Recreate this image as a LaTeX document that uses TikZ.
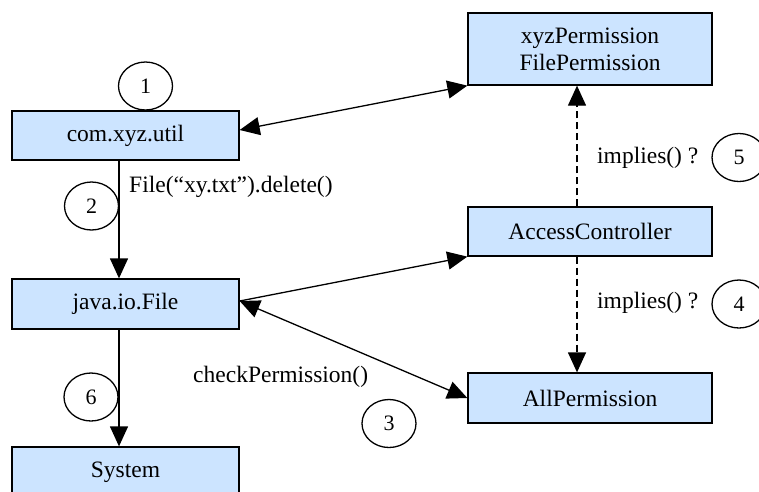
\documentclass[tikz,border=0pt]{standalone}
\usepackage{fontspec}
\setmainfont{Liberation Serif}
\usetikzlibrary{arrows.meta}
\definecolor{boxfill}{RGB}{204,228,255}
\tikzset{
  box/.style={draw=black, fill=boxfill, line width=1.3pt, inner sep=0pt, align=center,
    font=\fontsize{23.5}{27}\selectfont},
  stepmark/.style={draw=black, ellipse, line width=1.3pt, inner sep=0pt,
    minimum width=54pt, minimum height=48pt, font=\fontsize{22}{24}\selectfont},
  edgelabel/.style={inner sep=0pt, font=\fontsize{23.5}{27}\selectfont},
  conn/.style={line width=1.3pt, -{Triangle[length=20pt,width=18pt]}},
  biconn/.style={line width=1.3pt, {Triangle[length=20pt,width=18pt]}-{Triangle[length=20pt,width=18pt]}},
  implies/.style={conn, dash pattern=on 7pt off 4pt}
}
\usetikzlibrary{shapes.geometric}
\begin{document}
\begin{tikzpicture}[x=1pt,y=-1pt]
  \clip (0,0) rectangle (759,491);
  \fill[white] (0,0) rectangle (759,491);

  % classes on the call path
  \node[box, minimum width=227pt, minimum height=49pt] (util) at (125.5,135.5) {com.xyz.util};
  \node[box, minimum width=227pt, minimum height=50pt] (file) at (125.5,304) {java.io.File};
  \node[box, minimum width=227pt, minimum height=50pt] (sys) at (125.5,472) {System};

  % security side
  \node[box, minimum width=244pt, minimum height=72pt] (perm) at (590,49) {xyzPermission\\FilePermission};
  \node[box, minimum width=244pt, minimum height=49pt] (acc) at (590,231.5) {AccessController};
  \node[box, minimum width=244pt, minimum height=50pt] (all) at (590,398) {AllPermission};

  % connectors
  \draw[conn] ([xshift=-6.5pt]util.south) -- ([xshift=-6.5pt]file.north);
  \draw[conn] ([xshift=-6.5pt]file.south) -- ([xshift=-6.5pt]sys.north);
  \draw[biconn] ([yshift=5.5pt]util.east) -- (perm.south west);
  \draw[conn] ([yshift=3pt]file.east) -- (acc.south west);
  \draw[biconn] ([yshift=3pt]file.east) -- (all.west);
  \draw[implies] ([xshift=-13pt]acc.north) -- ([xshift=-13pt]perm.south);
  \draw[implies] ([xshift=-13pt]acc.south) -- ([xshift=-13pt]all.north);

  % edge labels
  \node[edgelabel, anchor=west] (lbldel) at (129,187) {File(“xy.txt”).delete()};
  \node[edgelabel, anchor=west] (lblchk) at (193,377) {checkPermission()};
  \node[edgelabel, anchor=west] (lblimp5) at (597,158) {implies() ?};
  \node[edgelabel, anchor=west] (lblimp4) at (597,303) {implies() ?};

  % step numbers
  \node[stepmark] (s1) at (145.5,86) {1};
  \node[stepmark] (s2) at (91.5,206) {2};
  \node[stepmark] (s3) at (389,423.5) {3};
  \node[stepmark] (s4) at (739,304) {4};
  \node[stepmark] (s5) at (739,157.5) {5};
  \node[stepmark] (s6) at (91,397) {6};
\end{tikzpicture}
\end{document}
